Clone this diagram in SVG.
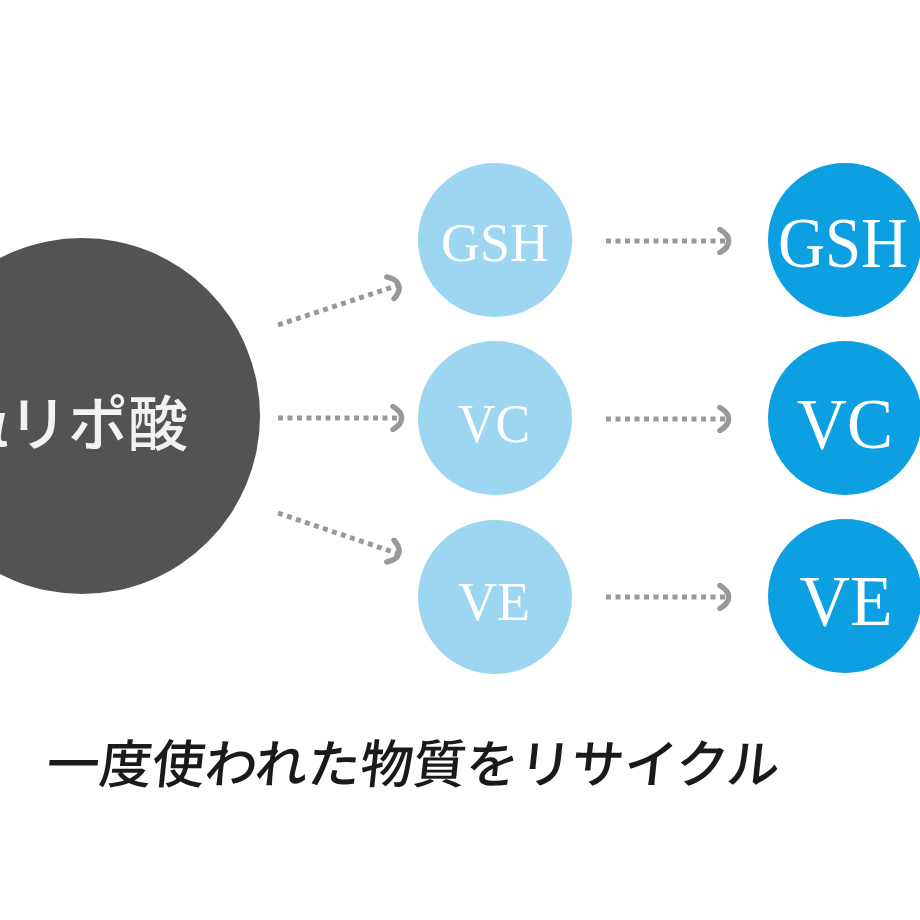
<svg xmlns="http://www.w3.org/2000/svg" width="920" height="920" viewBox="0 0 920 920">
<style>
.main{fill:#545254}
.lt{fill:#9dd6f1}
.dk{fill:#0ca0e2}
.lbl{font-family:"Liberation Serif","Times New Roman",serif;fill:#ffffff;text-anchor:middle}
.jp{font-family:"Noto Sans CJK JP","Noto Sans",sans-serif}
.conn{stroke:#999999;stroke-width:5;stroke-dasharray:5 4.5;fill:none}
</style>
<defs>
<marker id="chev" viewBox="0 0 16 28" refX="13" refY="14" markerWidth="16" markerHeight="28" markerUnits="userSpaceOnUse" orient="auto">
<path d="M4 2.5 Q13 8 12.5 14 Q13 20 4 25.5" stroke="#999999" stroke-width="5.5" fill="none" stroke-linecap="round"/>
</marker>
</defs>
<rect width="920" height="920" fill="#ffffff"/>
<g id="connectors">
<line class="conn" x1="278" y1="325" x2="399" y2="285" marker-end="url(#chev)"/>
<line class="conn" x1="278" y1="418" x2="402" y2="418" marker-end="url(#chev)"/>
<line class="conn" x1="278" y1="513" x2="399" y2="554" marker-end="url(#chev)"/>
<line class="conn" x1="606" y1="241" x2="729" y2="241" marker-end="url(#chev)"/>
<line class="conn" x1="606" y1="419" x2="729" y2="419" marker-end="url(#chev)"/>
<line class="conn" x1="606" y1="597" x2="729" y2="597" marker-end="url(#chev)"/>
</g>
<g id="lipoic">
<circle class="main" cx="82" cy="416" r="178"/>
<text class="jp" x="188" y="446" font-size="60" font-weight="500" fill="#f2f2f2" text-anchor="end">αリポ酸</text>
</g>
<g id="gsh1"><circle class="lt" cx="495" cy="240" r="77"/><text class="lbl" x="495" y="261" font-size="54" textLength="108" lengthAdjust="spacingAndGlyphs">GSH</text></g>
<g id="vc1"><circle class="lt" cx="495" cy="418" r="77"/><text class="lbl" x="494" y="442" font-size="54" textLength="72" lengthAdjust="spacingAndGlyphs">VC</text></g>
<g id="ve1"><circle class="lt" cx="495" cy="597" r="77"/><text class="lbl" x="494" y="620" font-size="54" textLength="72" lengthAdjust="spacingAndGlyphs">VE</text></g>
<g id="gsh2"><circle class="dk" cx="845" cy="240" r="77"/><text class="lbl" x="843" y="267" font-size="72" textLength="130" lengthAdjust="spacingAndGlyphs">GSH</text></g>
<g id="vc2"><circle class="dk" cx="845" cy="418" r="77"/><text class="lbl" x="845" y="448" font-size="72" textLength="96" lengthAdjust="spacingAndGlyphs">VC</text></g>
<g id="ve2"><circle class="dk" cx="845" cy="596" r="77"/><text class="lbl" x="846" y="625" font-size="72" textLength="93" lengthAdjust="spacingAndGlyphs">VE</text></g>
<g id="caption">
<text class="jp" transform="translate(45,783) skewX(-6)" x="0" y="0" font-size="52" font-weight="500" fill="#1a1a1a" textLength="733" lengthAdjust="spacingAndGlyphs">一度使われた物質をリサイクル</text>
</g>
</svg>
